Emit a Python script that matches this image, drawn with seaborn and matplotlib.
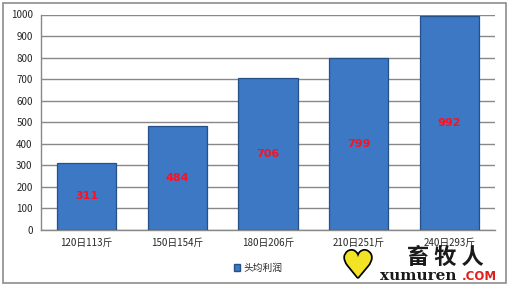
import matplotlib
matplotlib.use("Agg")
import matplotlib.pyplot as plt
import matplotlib.patches as mpatches
import matplotlib.patheffects as pe
import seaborn as sns
import pandas as pd

categories = ["120日113斤", "150日154斤", "180日206斤", "210日251斤", "240日293斤"]
values = [311, 484, 706, 799, 992]
value_labels = ["311", "484", "706", "799", "992"]
series_name = "头均利润"
y_ticks = [0, 100, 200, 300, 400, 500, 600, 700, 800, 900, 1000]

sns.set_style("white")
plt.rcParams["font.family"] = ["Noto Sans CJK SC", "DejaVu Sans"]

df = pd.DataFrame({"cat": categories, "val": values})

fig = plt.figure(figsize=(5.11, 2.86), dpi=100)
ax = fig.add_axes([41/511, 1-230/286, (495-41)/511, (230-14.5)/286])

bar_color = "#3D78C4"
sns.barplot(data=df, x="cat", y="val", color=bar_color, width=0.65,
            edgecolor="#25508A", linewidth=0.9, saturation=1, ax=ax, zorder=3)

for i, (v, lab) in enumerate(zip(values, value_labels)):
    ax.text(i, v/2, lab, ha="center", va="center", color="#FF1020",
            fontsize=8, fontweight="bold", family=["DejaVu Sans"], zorder=4)

ax.set_ylim(0, 1000)
ax.set_xlim(-0.5, len(categories)-0.5)
ax.set_yticks(y_ticks)
ax.set_yticklabels([str(t) for t in y_ticks], fontsize=7)
ax.tick_params(axis="y", length=0, pad=6)
ax.tick_params(axis="x", length=0, pad=6, labelsize=7)
ax.set_xlabel("")
ax.set_ylabel("")
ax.yaxis.grid(True, color="#888888", linewidth=1, zorder=0)
ax.set_axisbelow(True)
for s in ["top", "right"]:
    ax.spines[s].set_visible(False)
for s in ["left", "bottom"]:
    ax.spines[s].set_color("#888888")
    ax.spines[s].set_linewidth(1)

handle = mpatches.Patch(facecolor=bar_color, edgecolor="#25508A", label=series_name)
fig.legend(handles=[handle], loc="center", bbox_to_anchor=(258/511, 1-268/286),
           frameon=False, fontsize=7, handlelength=0.7, handleheight=0.7,
           handletextpad=0.3)

# outer chart border
fig.patches.append(mpatches.Rectangle((3/511, 3/286), 503/511, 280/286,
                                      transform=fig.transFigure, fill=False,
                                      edgecolor="#8C8C8C", linewidth=1.2))

# watermark
fig.text(358/511, 1-267/286, "♥", ha="center", va="center", fontsize=26,
         color="#F2E424", family=["DejaVu Sans"],
         path_effects=[pe.withStroke(linewidth=2.5, foreground="black")])
fig.text(445/511, 1-257/286, "畜 牧 人", ha="center", va="center", fontsize=16,
         fontweight="bold", color="#1A1A1A", family=["Noto Sans CJK SC"])
fig.text(380/511, 1-276/286, "xumuren", ha="left", va="center", fontsize=11,
         fontweight="bold", color="#1A1A1A", family=["DejaVu Serif"])
fig.text(462/511, 1-276/286, ".COM", ha="left", va="center", fontsize=8.5,
         fontweight="bold", color="#E02020", family=["DejaVu Sans"])

fig.savefig("out.png", dpi=100)
